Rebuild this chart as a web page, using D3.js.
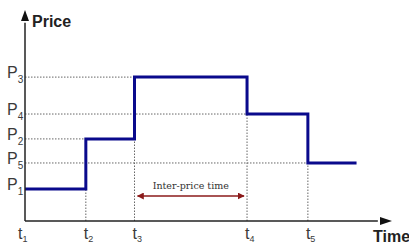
<!DOCTYPE html>
<html lang='en'>
<head>
<meta charset='utf-8'>
<title>Price steps</title>
<script src="https://d3js.org/d3.v7.min.js"></script>
<style>
  body { margin: 0; background: #fff; }
  svg { display: block; }
  .lbl { font-family: 'Liberation Sans', Arial, sans-serif; fill: #3a3a3a; }
</style>
</head>
<body>
<script>
// step change times (t1..t5) and the price held from each
var times = [0, 2, 3.6, 7.3, 9.3];
var endTime = 10.9;
var prices = [1.52, 3.89, 6.82, 5.07, 2.75];
var timeLabels = ['1', '2', '3', '4', '5'];
var priceLabels = ['1', '2', '3', '4', '5'];

var width = 409, height = 244;
var svg = d3.select('body').append('svg')
    .attr('width', width)
    .attr('height', height);

var x = d3.scaleLinear().domain([0, 12]).range([25, 390]);
var y = d3.scaleLinear().domain([0, 10]).range([221, 10]);

// dotted guide lines
var guides = svg.append('g')
    .attr('stroke', '#666')
    .attr('stroke-width', 1)
    .attr('stroke-dasharray', '1.5,1.5');
times.forEach(function(t, i) {
    // horizontal from axis to where the level starts
    guides.append('line')
        .attr('x1', x(0)).attr('x2', x(t))
        .attr('y1', y(prices[i])).attr('y2', y(prices[i]));
    // vertical from axis up to the lower end of the step
    if (i > 0) {
        guides.append('line')
            .attr('x1', x(t)).attr('x2', x(t))
            .attr('y1', y(0)).attr('y2', y(Math.min(prices[i], prices[i - 1])));
    }
});

// step line
var pts = times.map(function(t, i) { return [t, prices[i]]; });
pts.push([endTime, prices[prices.length - 1]]);
var line = d3.line()
    .x(function(d) { return x(d[0]); })
    .y(function(d) { return y(d[1]); })
    .curve(d3.curveStepAfter);
svg.append('path')
    .attr('d', line(pts))
    .attr('fill', 'none')
    .attr('stroke', '#0a0a8c')
    .attr('stroke-width', 3);

// axes
svg.append('line')
    .attr('x1', x(0)).attr('x2', x(0))
    .attr('y1', y(0)).attr('y2', y(9.4))
    .attr('stroke', '#222').attr('stroke-width', 1.5);
svg.append('line')
    .attr('x1', x(0)).attr('x2', x(11.6))
    .attr('y1', y(0)).attr('y2', y(0))
    .attr('stroke', '#222').attr('stroke-width', 1.5);
svg.append('polygon')
    .attr('points', [[x(0), y(10)], [x(0) - 4, y(10) + 11], [x(0) + 4, y(10) + 11]].join(' '))
    .attr('fill', '#111');
svg.append('polygon')
    .attr('points', [[x(12) + 2, y(0)], [x(12) - 10, y(0) - 4], [x(12) - 10, y(0) + 4]].join(' '))
    .attr('fill', '#111');

svg.append('text')
    .attr('x', 32).attr('y', 27)
    .attr('font-family', 'Liberation Sans, Arial, sans-serif')
    .attr('font-weight', 'bold')
    .attr('font-size', 16)
    .attr('fill', '#222')
    .text('Price');
svg.append('text')
    .attr('x', 373).attr('y', 242)
    .attr('font-family', 'Liberation Sans, Arial, sans-serif')
    .attr('font-weight', 'bold')
    .attr('font-size', 16)
    .attr('fill', '#222')
    .text('Time');

// price labels
prices.forEach(function(p, i) {
    var tx = svg.append('text').attr('class', 'lbl')
        .attr('x', 7).attr('y', y(p) + 1)
        .attr('font-size', 16);
    tx.append('tspan').text('P');
    tx.append('tspan').attr('font-size', 10).attr('dy', 5).text(priceLabels[i]);
});

// time labels
times.forEach(function(t, i) {
    var tx = svg.append('text').attr('class', 'lbl')
        .attr('x', x(t) - (i === 0 ? 7 : 2)).attr('y', 239)
        .attr('font-size', 16);
    tx.append('tspan').text('t');
    tx.append('tspan').attr('font-size', 9).attr('dy', 3).text(timeLabels[i]);
});

// inter-price time annotation between t3 and t4
var defs = svg.append('defs');
defs.append('marker')
    .attr('id', 'ah').attr('viewBox', '0 0 10 10')
    .attr('refX', 9).attr('refY', 5)
    .attr('markerWidth', 7).attr('markerHeight', 7)
    .attr('markerUnits', 'userSpaceOnUse')
    .attr('orient', 'auto-start-reverse')
    .append('path').attr('d', 'M0,0 L10,5 L0,10 Z').attr('fill', '#8b1a1a');
svg.append('line')
    .attr('x1', x(times[2]) + 3).attr('x2', x(times[3]) - 3)
    .attr('y1', 196).attr('y2', 196)
    .attr('stroke', '#8b1a1a').attr('stroke-width', 1.5)
    .attr('marker-start', 'url(#ah)').attr('marker-end', 'url(#ah)');
svg.append('text')
    .attr('x', (x(times[2]) + x(times[3])) / 2).attr('y', 189)
    .attr('text-anchor', 'middle')
    .attr('font-family', 'DejaVu Serif, Liberation Serif, serif')
    .attr('font-size', 9.5)
    .attr('fill', '#333')
    .text('Inter-price time');
</script>
</body>
</html>
